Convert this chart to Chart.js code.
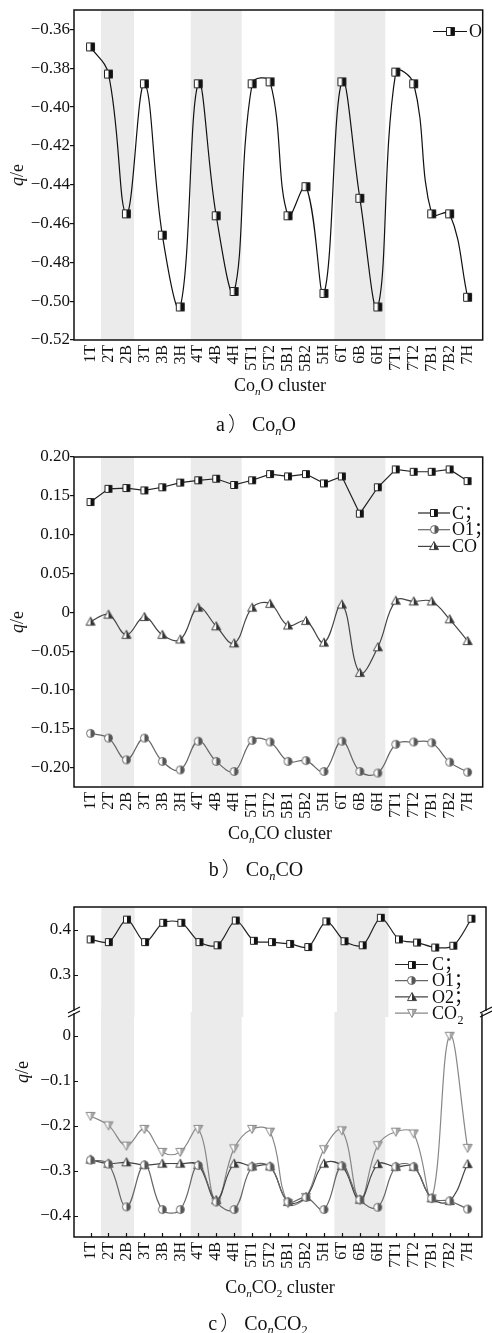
<!DOCTYPE html>
<html>
<head>
<meta charset="utf-8">
<script src="https://cdn.jsdelivr.net/npm/chart.js@4.4.1/dist/chart.umd.min.js"></script>
<style>
  html, body { margin: 0; padding: 0; background: #fff; }
  #fig { position: relative; width: 492px; height: 1333px; background: #fff; overflow: hidden; }
  canvas { position: absolute; left: 0; }
  .t { position: absolute; transform: translate(-50%, -50%); white-space: nowrap; line-height: 1;
       font-family: "Liberation Serif", "Times New Roman", serif; color: #111; }
  .yt { transform: translate(-50%, -50%) rotate(-90deg); font-size: 18px; }
  .xt { font-size: 18px; }
  .cap { font-size: 20px; }
  .sub { font-size: 0.62em; position: relative; top: 0.32em; }
  .par { font-family: "Noto Sans CJK SC", sans-serif; font-weight: 300; margin: 0 4px 0 3px; }
</style>
</head>
<body>
<div id="fig">
  <canvas id="ca" width="492" height="380" style="top:0px"></canvas>
  <canvas id="cb" width="492" height="390" style="top:440px"></canvas>
  <canvas id="ccb" width="492" height="280" style="top:1000px"></canvas>
  <canvas id="cct" width="492" height="136" style="top:890px"></canvas>

  <div class="t yt" style="left:17px;top:175px"><i>q</i>/e</div>
  <div class="t xt" style="left:280px;top:385px">Co<i class="sub">n</i>O cluster</div>
  <div class="t cap" style="left:256px;top:423px">a<span class="par">）</span>Co<i class="sub">n</i>O</div>

  <div class="t yt" style="left:17px;top:622px"><i>q</i>/e</div>
  <div class="t xt" style="left:280px;top:833px">Co<i class="sub">n</i>CO cluster</div>
  <div class="t cap" style="left:256px;top:868px">b<span class="par">）</span>Co<i class="sub">n</i>CO</div>

  <div class="t yt" style="left:22px;top:1072px"><i>q</i>/e</div>
  <div class="t xt" style="left:280px;top:1287px">Co<i class="sub">n</i>CO<span class="sub">2</span> cluster</div>
  <div class="t cap" style="left:258px;top:1322px">c<span class="par">）</span>Co<i class="sub">n</i>CO<span class="sub">2</span></div>
</div>
<script>
// ---------------- data ----------------
const categories = ['1T','2T','2B','3T','3B','3H','4T','4B','4H','5T1','5T2','5B1','5B2','5H','6T','6B','6H','7T1','7T2','7B1','7B2','7H'];
const shadedGroups = [['2T','2B'], ['4T','4H'], ['6T','6H']];

// a) ConO
const qO_a = [-0.369,-0.383,-0.455,-0.388,-0.466,-0.503,-0.388,-0.456,-0.495,-0.388,-0.387,-0.456,-0.441,-0.496,-0.387,-0.447,-0.503,-0.382,-0.388,-0.455,-0.455,-0.498];
const yTicksA = [-0.36,-0.38,-0.40,-0.42,-0.44,-0.46,-0.48,-0.50,-0.52];

// b) ConCO
const qC_b  = [0.142,0.159,0.160,0.157,0.161,0.167,0.170,0.172,0.164,0.170,0.178,0.175,0.178,0.166,0.175,0.127,0.161,0.184,0.181,0.181,0.184,0.169];
const qO1_b = [-0.156,-0.162,-0.190,-0.162,-0.192,-0.203,-0.166,-0.192,-0.205,-0.165,-0.167,-0.192,-0.191,-0.205,-0.166,-0.205,-0.207,-0.170,-0.167,-0.168,-0.193,-0.206];
const qCO_b = [-0.012,-0.003,-0.029,-0.006,-0.029,-0.035,0.006,-0.018,-0.040,0.006,0.011,-0.017,-0.011,-0.039,0.010,-0.078,-0.045,0.015,0.014,0.014,-0.009,-0.037];
const yTicksB = [0.20,0.15,0.10,0.05,0,-0.05,-0.10,-0.15,-0.20];

// c) ConCO2
const qC_c   = [0.378,0.372,0.422,0.372,0.415,0.415,0.372,0.365,0.420,0.375,0.372,0.368,0.361,0.418,0.374,0.365,0.426,0.378,0.371,0.360,0.364,0.424];
const qO1_c  = [-0.276,-0.285,-0.380,-0.287,-0.386,-0.386,-0.288,-0.369,-0.386,-0.291,-0.291,-0.369,-0.359,-0.386,-0.289,-0.364,-0.381,-0.291,-0.291,-0.361,-0.367,-0.385];
const qO2_c  = [-0.275,-0.284,-0.281,-0.287,-0.284,-0.284,-0.287,-0.365,-0.284,-0.290,-0.290,-0.369,-0.358,-0.284,-0.289,-0.364,-0.285,-0.291,-0.291,-0.361,-0.367,-0.285];
const qCO2_c = [-0.178,-0.199,-0.244,-0.207,-0.258,-0.258,-0.207,-0.369,-0.250,-0.207,-0.213,-0.372,-0.358,-0.252,-0.210,-0.365,-0.243,-0.213,-0.217,-0.361,0.000,-0.249];
const yTicksCTop = [0.4, 0.3];
const yTicksCBot = [0, -0.1, -0.2, -0.3, -0.4];

// ---------------- styling helpers ----------------
const SERIF = '"Liberation Serif", "Times New Roman", serif';

function marker(shape, size, left, right, stroke) {
  const c = document.createElement('canvas');
  const w = size + 3;
  c.width = w; c.height = w;
  const g = c.getContext('2d');
  const cx = w / 2, cy = w / 2, r = size / 2;
  const path = () => {
    g.beginPath();
    if (shape === 'square') g.rect(cx - r, cy - r, size, size);
    else if (shape === 'circle') g.arc(cx, cy, r, 0, Math.PI * 2);
    else if (shape === 'tri') { g.moveTo(cx, cy - r); g.lineTo(cx + r, cy + r * 0.8); g.lineTo(cx - r, cy + r * 0.8); g.closePath(); }
    else if (shape === 'itri') { g.moveTo(cx, cy + r); g.lineTo(cx + r, cy - r * 0.8); g.lineTo(cx - r, cy - r * 0.8); g.closePath(); }
  };
  path(); g.fillStyle = left; g.fill();
  g.save(); path(); g.clip(); g.fillStyle = right; g.fillRect(cx, 0, w, w); g.restore();
  path(); g.strokeStyle = stroke; g.lineWidth = 1; g.stroke();
  return c;
}

const mkSqA  = marker('square', 8, '#fff', '#111', '#222');
const mkSq   = marker('square', 7, '#fff', '#111', '#222');
const mkCirc = marker('circle', 8, '#fff', '#555', '#666');
const mkTri  = marker('tri', 9, '#fff', '#333', '#444');
const mkITri = marker('itri', 9, '#fff', '#aaa', '#888');

function series(label, values, color, pm, tension, legendText, legendSub) {
  return {
    label, legendText, legendSub,
    data: values.map((v, i) => ({ x: i, y: v })),
    borderColor: color, backgroundColor: color, borderWidth: 1.2,
    pointStyle: pm, pointRadius: 4, pointHoverRadius: 4,
    tension, fill: false
  };
}

function fmt(v, dec) {
  if (Math.abs(v) < 1e-9) return '0';
  return (v < 0 ? '\u2212' : '') + Math.abs(v).toFixed(dec);
}

// per-canvas decoration settings (frame, ticks, legend geometry)
const deco = {};

const figPlugin = {
  id: 'fig',
  beforeDraw(chart) {
    const o = deco[chart.canvas.id] || {};
    const { ctx, chartArea: a } = chart;
    const x = chart.scales.x;
    const extB = o.gapBottom ? 5 : 0;
    ctx.save();
    ctx.fillStyle = '#ebebeb';
    shadedGroups.forEach(g => {
      const x0 = x.getPixelForValue(categories.indexOf(g[0]) - 0.42);
      const x1 = x.getPixelForValue(categories.indexOf(g[1]) + 0.42);
      ctx.fillRect(x0, a.top, x1 - x0, a.bottom - a.top + extB);
    });
    ctx.restore();
  },
  afterDraw(chart) {
    const o = deco[chart.canvas.id] || {};
    const { ctx, chartArea: a } = chart;
    const L = a.left, R = a.right, T = a.top, B = a.bottom;
    ctx.save();
    ctx.strokeStyle = '#111';
    ctx.lineWidth = 1.5;
    ctx.lineCap = 'square';
    const s = o.sides || 'tlrb';
    const t0 = o.gapTop ? T + 2 : T, b0 = o.gapBottom ? B - 2 : B;
    ctx.beginPath();
    if (s.includes('t')) { ctx.moveTo(L, T); ctx.lineTo(R, T); }
    if (s.includes('b')) { ctx.moveTo(L, B); ctx.lineTo(R, B); }
    if (s.includes('l')) { ctx.moveTo(L, t0); ctx.lineTo(L, b0); }
    if (s.includes('r')) { ctx.moveTo(R, t0); ctx.lineTo(R, b0); }
    ctx.stroke();

    // inward ticks
    ctx.lineWidth = 1.2;
    ctx.lineCap = 'butt';
    if (o.inY) {
      const y = chart.scales.y;
      ctx.beginPath();
      y.ticks.forEach(t => {
        const py = Math.round(y.getPixelForValue(t.value)) + 0.5;
        ctx.moveTo(L, py); ctx.lineTo(L + 4, py);
      });
      ctx.stroke();
    }
    if (o.inX) {
      const x = chart.scales.x;
      ctx.beginPath();
      categories.forEach((c, i) => {
        const px = Math.round(x.getPixelForValue(i)) + 0.5;
        ctx.moveTo(px, B); ctx.lineTo(px, B - 4);
      });
      ctx.stroke();
    }

    // axis break marks
    if (o.brk) {
      ctx.lineWidth = 1.2;
      [L, R].forEach(X => {
        ctx.beginPath();
        ctx.moveTo(X - 6, B - 2 + 3); ctx.lineTo(X + 6, B - 2 - 3);
        ctx.moveTo(X - 6, B + 2 + 3); ctx.lineTo(X + 6, B + 2 - 3);
        ctx.stroke();
      });
    }

    // legend
    if (o.legend) {
      const lg = o.legend;
      lg.items.forEach((d, i) => {
        const y = lg.y0 + i * lg.dy;
        ctx.strokeStyle = d.borderColor; ctx.lineWidth = 1.2;
        ctx.beginPath(); ctx.moveTo(lg.x0, y); ctx.lineTo(lg.x1, y); ctx.stroke();
        const m = d.pointStyle;
        ctx.drawImage(m, Math.round((lg.x0 + lg.x1) / 2 - m.width / 2), Math.round(y - m.height / 2));
        ctx.fillStyle = '#111';
        ctx.font = '18px ' + SERIF + ', "Noto Sans CJK SC"';
        ctx.textBaseline = 'middle'; ctx.textAlign = 'left';
        ctx.fillText(d.legendText, lg.tx, y + 1);
        if (d.legendSub) {
          const w = ctx.measureText(d.legendText).width;
          ctx.font = '12px ' + SERIF;
          ctx.fillText(d.legendSub, lg.tx + w + 0.5, y + 8);
        }
      });
    }
    ctx.restore();
  }
};

function makeChart(id, cfg) {
  return new Chart(document.getElementById(id), {
    type: 'line',
    data: { datasets: cfg.datasets },
    options: {
      responsive: false, animation: false, events: [],
      layout: { padding: cfg.padding },
      plugins: { legend: { display: false }, tooltip: { enabled: false } },
      scales: {
        x: {
          type: 'linear', min: -0.92, max: cfg.xMax, display: cfg.showX,
          afterBuildTicks: s => { s.ticks = categories.map((c, i) => ({ value: i })); },
          afterFit: s => { s.height = cfg.xHeight; },
          grid: { display: false, drawTicks: false },
          border: { display: false },
          ticks: {
            autoSkip: false, minRotation: 90, maxRotation: 90, padding: 5, color: '#111',
            font: { family: SERIF, size: 16 },
            callback: v => categories[v]
          }
        },
        y: {
          type: 'linear', min: cfg.yMin, max: cfg.yMax,
          afterBuildTicks: s => { s.ticks = cfg.yTicks.map(v => ({ value: v })); },
          afterFit: s => { s.width = 74; },
          grid: { display: true, drawOnChartArea: false, drawTicks: cfg.outTicks, tickLength: 4, color: '#111', lineWidth: 1.2 },
          border: { display: false },
          ticks: {
            padding: cfg.outTicks ? 0 : 3, color: '#111',
            font: { family: SERIF, size: 17, lineHeight: 1 },
            callback: v => fmt(v, cfg.dec)
          }
        }
      }
    },
    plugins: [figPlugin]
  });
}

// ---------- panel a ----------
const dsA = [series('O', qO_a, '#111', mkSqA, 0.4, 'O')];
deco.ca = { sides: 'tlrb', legend: { items: dsA, x0: 433, x1: 467, tx: 469, y0: 31.5, dy: 17 } };
makeChart('ca', {
  datasets: dsA, padding: { top: 10, right: 5, left: 0, bottom: 0 },
  xMax: 21.84, showX: true, xHeight: 40,
  yMin: -0.52, yMax: -0.35, yTicks: yTicksA, dec: 2, outTicks: true
});

// ---------- panel b ----------
const dsB = [
  series('C', qC_b, '#222', mkSq, 0, 'C\uFF1B'),
  series('O1', qO1_b, '#666', mkCirc, 0.4, 'O1\uFF1B'),
  series('CO', qCO_b, '#444', mkTri, 0.4, 'CO')
];
deco.cb = { sides: 'tlrb', legend: { items: dsB, x0: 418, x1: 450, tx: 452, y0: 73, dy: 16.7 } };
makeChart('cb', {
  datasets: dsB, padding: { top: 17, right: 5, left: 0, bottom: 0 },
  xMax: 21.84, showX: true, xHeight: 43,
  yMin: -0.225, yMax: 0.20, yTicks: yTicksB, dec: 2, outTicks: true
});

// ---------- panel c (broken y axis: two stacked plot sections) ----------
const dsCtop = [series('C', qC_c, '#222', mkSq, 0.3, 'C\uFF1B')];
const dsCbot = [
  series('O1', qO1_c, '#666', mkCirc, 0.4, 'O1\uFF1B'),
  series('O2', qO2_c, '#444', mkTri, 0.4, 'O2\uFF1B'),
  series('CO2', qCO2_c, '#888', mkITri, 0.4, 'CO', '2')
];
deco.ccb = { sides: 'lrb', gapTop: true, inY: true, inX: true };
makeChart('ccb', {
  datasets: dsCbot, padding: { top: 12, right: 6, left: 0, bottom: 0 },
  xMax: 21.8, showX: true, xHeight: 43,
  yMin: -0.447, yMax: 0.053, yTicks: yTicksCBot, dec: 1, outTicks: false
});
deco.cct = { sides: 'tlr', gapBottom: true, inY: true, brk: true,
  legend: { items: dsCtop.concat(dsCbot), x0: 395, x1: 428, tx: 432, y0: 74.5, dy: 16.2 } };
makeChart('cct', {
  datasets: dsCtop, padding: { top: 17, right: 6, left: 0, bottom: 14 },
  xMax: 21.8, showX: false, xHeight: 0,
  yMin: 0.2167, yMax: 0.45, yTicks: yTicksCTop, dec: 1, outTicks: false
});
</script>
</body>
</html>
